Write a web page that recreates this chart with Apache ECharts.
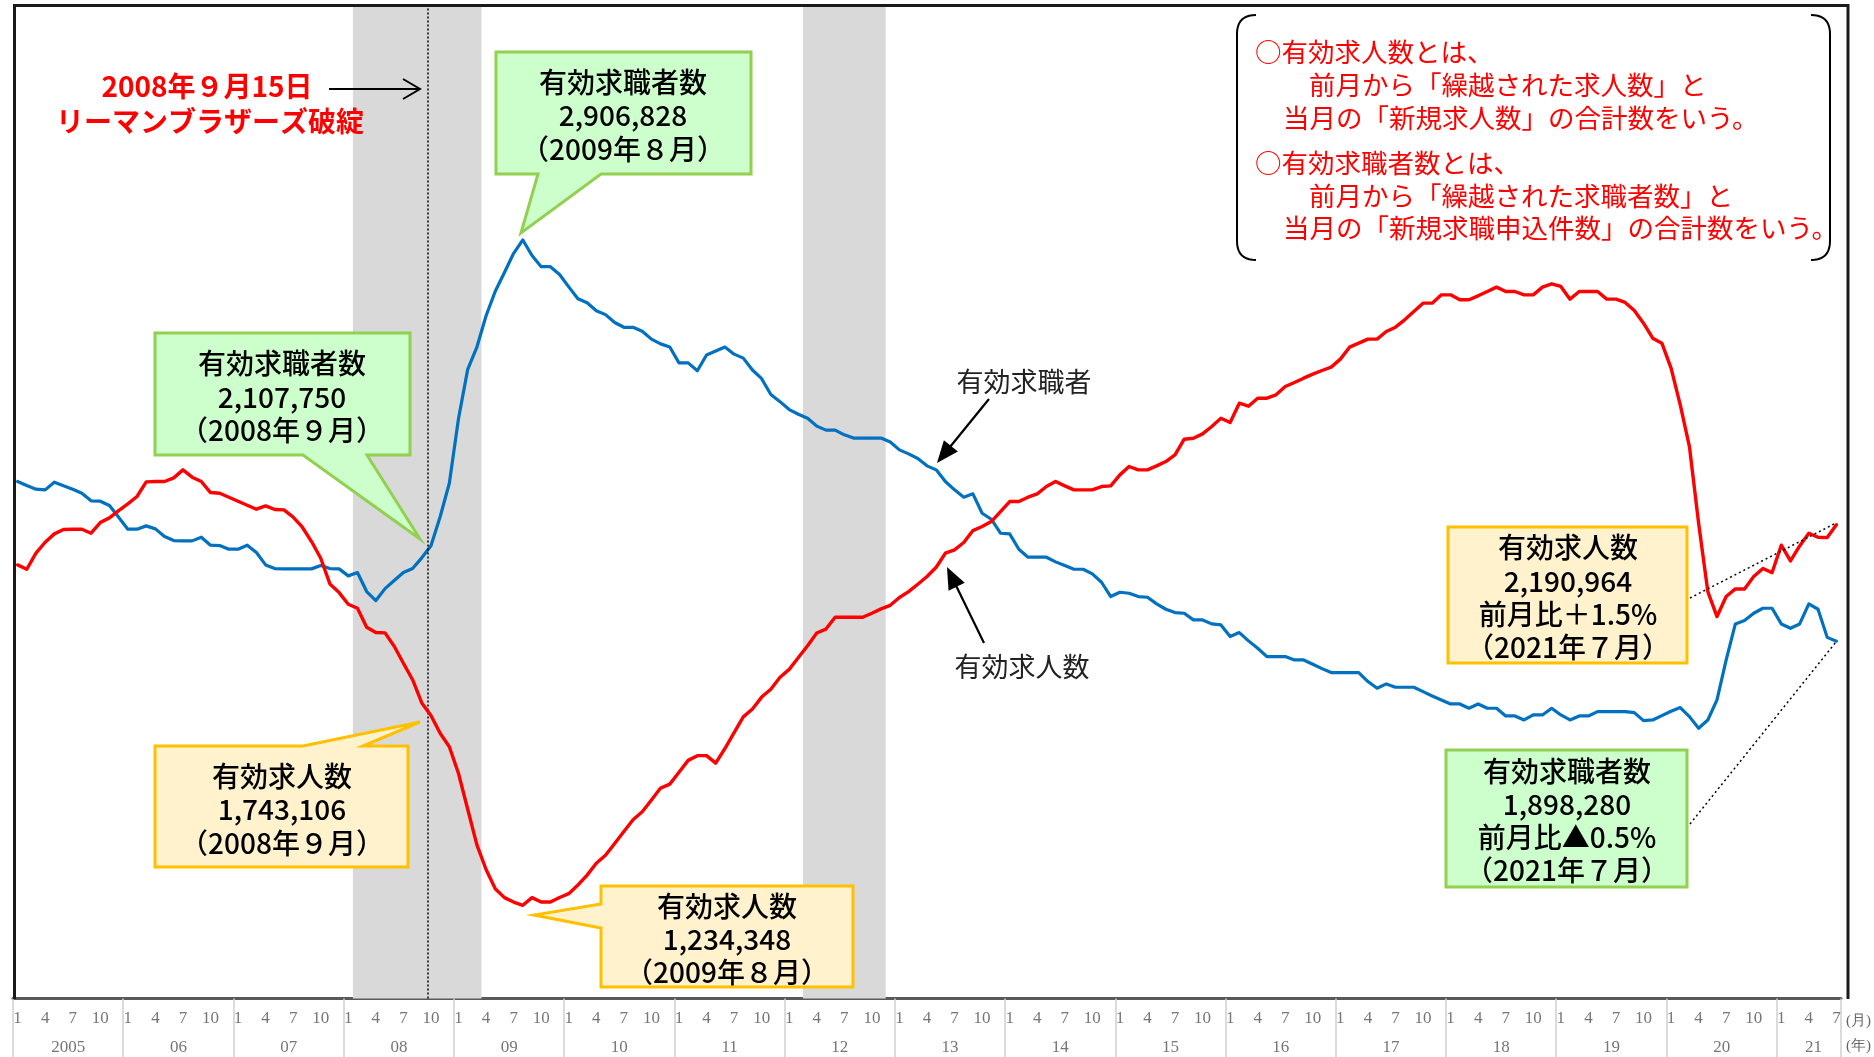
<!DOCTYPE html>
<html>
<head>
<meta charset="utf-8">
<script src="https://cdn.jsdelivr.net/npm/echarts@6/dist/echarts.min.js"></script>
<style>
  html, body { margin: 0; padding: 0; background: #ffffff; }
  #main { width: 1874px; height: 1057px; }
</style>
</head>
<body>
<div id="main"></div>
<script>
// 有効求人数 (job openings), monthly, Jan 2005 – Jul 2021
const jobOpenings = [
  2090000, 2079100, 2119400, 2147000, 2168000, 2178900, 2179700, 2179700, 2169700, 2196500, 2208200, 2226600, // 2005
  2243400, 2261900, 2298700, 2299600, 2299600, 2308800, 2328900, 2310500, 2299600, 2271900, 2270200, 2260200, // 2006
  2250100, 2240100, 2230000, 2238400, 2229200, 2228300, 2209900, 2184700, 2148700, 2106800, 2042200, 2020400, // 2007
  1991100, 1981100, 1933300, 1919900, 1919200, 1885500, 1842900, 1801400, 1743106, 1711600, 1666700, 1633000, // 2008
  1565600, 1475800, 1386000, 1324300, 1276000, 1253600, 1242400, 1234348, 1253600, 1242400, 1242400, 1254000, // 2009
  1263500, 1285400, 1310200, 1340100, 1360000, 1389800, 1419700, 1449500, 1469400, 1499200, 1529000, 1538900, // 2010
  1568800, 1598600, 1610500, 1610500, 1591600, 1628400, 1668200, 1707900, 1727900, 1757700, 1777600, 1807400, // 2011
  1827300, 1857100, 1886900, 1918800, 1928700, 1958500, 1958500, 1958500, 1958500, 1968500, 1979400, 1988400, // 2012
  2008000, 2022900, 2041400, 2060700, 2084100, 2119400, 2127800, 2146200, 2176300, 2186400, 2199000, 2224100, // 2013
  2249300, 2249300, 2260200, 2268600, 2287000, 2299600, 2288700, 2278600, 2278600, 2278600, 2287000, 2288700, // 2014
  2316300, 2337300, 2328900, 2328900, 2339000, 2349800, 2366600, 2406000, 2408500, 2419400, 2437900, 2458800, // 2015
  2447900, 2496600, 2489000, 2509100, 2509100, 2517500, 2538400, 2548500, 2559400, 2569500, 2578700, 2587100, // 2016
  2607200, 2637300, 2647400, 2657500, 2657500, 2676700, 2687600, 2706100, 2727000, 2748000, 2748000, 2768900, // 2017
  2768900, 2756400, 2756400, 2766400, 2777300, 2788200, 2777300, 2777300, 2768900, 2768900, 2788200, 2796600, // 2018
  2789900, 2758100, 2777300, 2777300, 2777300, 2758100, 2758100, 2749700, 2729500, 2697700, 2660000, 2647400, // 2019
  2584500, 2492300, 2387600, 2194800, 2023000, 1960100, 2010400, 2029600, 2029600, 2060700, 2080800, 2070700, // 2020
  2139500, 2100000, 2137800, 2169600, 2159600, 2158600, 2190964                                                // 2021
];

// 有効求職者数 (active job seekers), monthly, Jan 2005 – Jul 2021
const jobSeekers = [
  2299600, 2289500, 2280300, 2278600, 2297900, 2288700, 2280300, 2270200, 2251000, 2250100, 2239200, 2209900, // 2005
  2179700, 2179700, 2188100, 2180600, 2161300, 2151200, 2150400, 2150400, 2159600, 2139500, 2138600, 2129400, // 2006
  2129400, 2139500, 2121000, 2090000, 2080800, 2080000, 2080000, 2080000, 2080000, 2088300, 2080800, 2080000, // 2007
  2062400, 2070800, 2023000, 2000300, 2030400, 2050600, 2070800, 2080900, 2107750, 2138100, 2211100, 2295300, // 2008
  2458000, 2581500, 2637600, 2716200, 2777900, 2825100, 2873300, 2906828, 2867700, 2839700, 2839700, 2820000, // 2009
  2788800, 2758900, 2749000, 2729100, 2719200, 2699300, 2687300, 2687300, 2677400, 2657500, 2645600, 2637600, // 2010
  2597900, 2597900, 2578000, 2617800, 2627700, 2637600, 2619800, 2609800, 2580000, 2558100, 2518300, 2500400, // 2011
  2480500, 2468600, 2458700, 2438800, 2428800, 2428800, 2416900, 2408900, 2408900, 2408900, 2408900, 2399000, // 2012
  2379100, 2369100, 2357400, 2339000, 2328900, 2299600, 2278600, 2260200, 2268600, 2219900, 2204800, 2169600, // 2013
  2168000, 2129400, 2109300, 2109300, 2109300, 2097600, 2088300, 2079100, 2079100, 2067400, 2046400, 2010400, // 2014
  2021300, 2018800, 2010400, 2008700, 1992000, 1978500, 1970200, 1968500, 1951700, 1951700, 1941700, 1939100, // 2015
  1909800, 1919900, 1899000, 1880400, 1859500, 1859500, 1859500, 1851100, 1851100, 1840200, 1829300, 1819300, // 2016
  1819300, 1819300, 1819300, 1796700, 1780000, 1790800, 1782400, 1782400, 1782400, 1771500, 1760600, 1750500, // 2017
  1740500, 1740500, 1729600, 1740500, 1729600, 1729600, 1710300, 1710300, 1700200, 1712800, 1712800, 1729600, // 2018
  1712800, 1700200, 1710300, 1710300, 1721200, 1721200, 1721200, 1721200, 1718700, 1698600, 1700200, 1711100, // 2019
  1722000, 1731300, 1708600, 1679300, 1700200, 1750500, 1851100, 1941600, 1950000, 1968400, 1981000, 1981000, // 2020
  1941600, 1930700, 1941600, 1991900, 1978500, 1907800, 1898280                                                // 2021
];

const firstYear = 2005;
const lastYear = 2021;
const lastMonth = 7;
const labelledMonths = [1, 4, 7, 10];
// shaded recession periods (first month, last month)
const recessions = [['2008/2', '2009/3'], ['2012/3', '2012/11']];
// position of the dotted Lehman marker on the month scale
const lehmanPos = 45.1;

// month categories "yyyy/m"
const monthCats = [];
for (let y = firstYear; y <= lastYear; y++) {
  for (let m = 1; m <= 12; m++) {
    if (y === lastYear && m > lastMonth) break;
    monthCats.push(y + '/' + m);
  }
}
const idxOf = (c) => monthCats.indexOf(c);

function parseCat(c) {
  const p = c.split('/');
  return { y: +p[0], m: +p[1] };
}
function monthShown(m) { return labelledMonths.indexOf(m) >= 0; }
function yearShown(y, m) {
  // year caption sits under the middle of each year's span
  return (y < lastYear && m === 7) || (y === lastYear && m === 5);
}
function yearText(y) { return y === firstYear ? String(y) : String(y).slice(2); }

const BLUE = '#0070C0';
const RED = '#FF0000';
const JP = '"Noto Sans CJK JP", "Noto Sans", sans-serif';
const SERIF = '"Liberation Serif", "DejaVu Serif", serif';

// ---------- annotation helpers ----------
function textEl(x, y, text, opt) {
  opt = opt || {};
  return {
    type: 'text', z: 100, x: x, y: y, silent: true,
    style: {
      text: text,
      fill: opt.color || '#000',
      fontSize: opt.size || 28,
      fontFamily: opt.family || JP,
      fontWeight: opt.weight || 500,
      align: opt.align || 'center',
      verticalAlign: 'middle'
    }
  };
}
function lineEl(x1, y1, x2, y2, opt) {
  opt = opt || {};
  return {
    type: 'line', z: 100, silent: true,
    shape: { x1: x1, y1: y1, x2: x2, y2: y2 },
    style: { stroke: opt.color || '#000', lineWidth: opt.width || 2, lineDash: opt.dash || null }
  };
}
function arrowEl(x1, y1, x2, y2, open) {
  const dx = x2 - x1, dy = y2 - y1, L = Math.hypot(dx, dy);
  const ux = dx / L, uy = dy / L, px = -uy, py = ux;
  const len = open ? 17 : 22, hw = open ? 10 : 9;
  const bx = x2 - ux * len, by = y2 - uy * len;
  const els = [];
  if (open) {
    els.push(lineEl(x1, y1, x2, y2, { width: 2 }));
    els.push({
      type: 'polyline', z: 100, silent: true,
      shape: { points: [[bx + px * hw, by + py * hw], [x2, y2], [bx - px * hw, by - py * hw]] },
      style: { stroke: '#000', lineWidth: 2, fill: null }
    });
  } else {
    els.push(lineEl(x1, y1, bx + ux * 4, by + uy * 4, { width: 2.2 }));
    els.push({
      type: 'polygon', z: 100, silent: true,
      shape: { points: [[x2, y2], [bx + px * hw, by + py * hw], [bx - px * hw, by - py * hw]] },
      style: { fill: '#000' }
    });
  }
  return els;
}
// rectangular callout with a wedge pointer
function calloutEl(b, ptr, fill, stroke) {
  const [x1, y1, x2, y2] = b;
  let pts;
  if (!ptr) {
    pts = [[x1, y1], [x2, y1], [x2, y2], [x1, y2]];
  } else if (ptr.side === 'bottom') {
    pts = [[x1, y1], [x2, y1], [x2, y2], [ptr.b, y2], ptr.tip, [ptr.a, y2], [x1, y2]];
  } else if (ptr.side === 'top') {
    pts = [[x1, y1], [ptr.a, y1], ptr.tip, [ptr.b, y1], [x2, y1], [x2, y2], [x1, y2]];
  } else {
    pts = [[x1, y1], [x2, y1], [x2, y2], [x1, y2], [x1, ptr.b], ptr.tip, [x1, ptr.a]];
  }
  return {
    type: 'polygon', z: 90, silent: true,
    shape: { points: pts },
    style: { fill: fill, stroke: stroke, lineWidth: 3, lineJoin: 'miter' }
  };
}
// one side of a bracket: vertical stroke with curled ends
function bracketEl(xEnd, xBar, yTop, yBot, r) {
  const pts = [];
  const quad = (p0, p1, p2) => {
    for (let t = 0; t <= 1.0001; t += 0.1) {
      const a = (1 - t) * (1 - t), b = 2 * (1 - t) * t, c = t * t;
      pts.push([a * p0[0] + b * p1[0] + c * p2[0], a * p0[1] + b * p1[1] + c * p2[1]]);
    }
  };
  quad([xEnd, yTop], [xBar, yTop], [xBar, yTop + r]);
  quad([xBar, yBot - r], [xBar, yBot], [xEnd, yBot]);
  return {
    type: 'polyline', z: 100, silent: true,
    shape: { points: pts },
    style: { stroke: '#000', lineWidth: 2, fill: null }
  };
}
function stack(cx, ys, lines) {
  return lines.map((t, i) => textEl(cx, ys[i], t));
}

const GREEN_FILL = '#CCFFCC', GREEN_LINE = '#92D050';
const YELLOW_FILL = '#FFF2CC', YELLOW_LINE = '#FFC000';

const graphics = [];
// frame around the plot
graphics.push({
  type: 'polyline', z: 95, silent: true,
  shape: { points: [[14.5, 999], [14.5, 5.5], [1848, 5.5], [1848, 999]] },
  style: { stroke: '#1a1a1a', lineWidth: 3, fill: null }
});

// Lehman note
graphics.push(textEl(207, 86, '2008年９月15日', { color: RED, size: 28, weight: 'bold' }));
graphics.push(textEl(210, 121, 'リーマンブラザーズ破綻', { color: RED, size: 28, weight: 'bold' }));
graphics.push(...arrowEl(329, 89, 420, 89, true));

// callouts
graphics.push(calloutEl([496, 52, 751, 174], { side: 'bottom', a: 538, b: 601, tip: [521, 233] }, GREEN_FILL, GREEN_LINE));
graphics.push(...stack(623, [82, 115, 149], ['有効求職者数', '2,906,828', '（2009年８月）']));

graphics.push(calloutEl([155, 333, 410, 455], { side: 'bottom', a: 303, b: 367, tip: [420, 539] }, GREEN_FILL, GREEN_LINE));
graphics.push(...stack(282, [363, 397, 430], ['有効求職者数', '2,107,750', '（2008年９月）']));

graphics.push(calloutEl([155, 746, 408, 867], { side: 'top', a: 303, b: 363, tip: [420, 722] }, YELLOW_FILL, YELLOW_LINE));
graphics.push(...stack(282, [776, 809, 843], ['有効求人数', '1,743,106', '（2008年９月）']));

graphics.push(calloutEl([601, 886, 853, 987], { side: 'left', a: 904, b: 928, tip: [534, 915] }, YELLOW_FILL, YELLOW_LINE));
graphics.push(...stack(727, [906, 939, 972], ['有効求人数', '1,234,348', '（2009年８月）']));

graphics.push(calloutEl([1448, 527, 1687, 663], null, YELLOW_FILL, YELLOW_LINE));
graphics.push(...stack(1568, [547, 581, 614, 647], ['有効求人数', '2,190,964', '前月比＋1.5%', '（2021年７月）']));

graphics.push(calloutEl([1446, 750, 1687, 887], null, GREEN_FILL, GREEN_LINE));
graphics.push(...stack(1567, [771, 804, 837, 870], ['有効求職者数', '1,898,280', '前月比▲0.5%', '（2021年７月）']));

// dotted leaders to the latest points
graphics.push(lineEl(1690, 598, 1836, 523, { width: 1.5, dash: [2, 3] }));
graphics.push(lineEl(1690, 824, 1836, 642, { width: 1.5, dash: [2, 3] }));

// series captions
graphics.push(textEl(1024, 382, '有効求職者', { size: 27, color: '#222', weight: 'normal' }));
graphics.push(...arrowEl(989, 399, 937, 463, false));
graphics.push(textEl(1022, 667, '有効求人数', { size: 27, color: '#222', weight: 'normal' }));
graphics.push(...arrowEl(984, 643, 947, 567, false));

// definitions box (bracket pair)
graphics.push(bracketEl(1256, 1237, 15, 260, 19));
graphics.push(bracketEl(1811, 1830, 15, 260, 19));
const defs = [
  [1255, 52, '○有効求人数とは、'],
  [1309, 85, '前月から「繰越された求人数」と'],
  [1283, 118, '当月の「新規求人数」の合計数をいう。'],
  [1255, 163, '○有効求職者数とは、'],
  [1309, 196, '前月から「繰越された求職者数」と'],
  [1283, 228, '当月の「新規求職申込件数」の合計数をいう。']
];
defs.forEach(d => graphics.push(textEl(d[0], d[1], d[2], { color: RED, size: 26.5, align: 'left', weight: 'normal' })));

// axis unit captions
graphics.push(textEl(1846, 1021, '(月)', { size: 15, color: '#666', align: 'left', family: SERIF, weight: 'normal' }));
graphics.push(textEl(1846, 1046, '(年)', { size: 15, color: '#666', align: 'left', family: SERIF, weight: 'normal' }));

const chart = echarts.init(document.getElementById('main'));
chart.setOption({
  animation: false,
  backgroundColor: '#ffffff',
  grid: { left: 13, top: 4, width: 1828, height: 994.5, containLabel: false },
  xAxis: [
    {
      type: 'category',
      data: monthCats,
      boundaryGap: true,
      position: 'bottom',
      axisLine: { show: true, lineStyle: { color: '#595959', width: 3 } },
      axisTick: {
        show: true,
        interval: (i) => i % 12 === 0,
        length: 60,
        lineStyle: { color: '#D0D0D0', width: 1.5 }
      },
      axisLabel: {
        interval: (i, v) => { const c = parseCat(v); return monthShown(c.m) || yearShown(c.y, c.m); },
        formatter: (v) => {
          const c = parseCat(v);
          const mt = monthShown(c.m) ? String(c.m) : '';
          const yt = yearShown(c.y, c.m) ? yearText(c.y) : '';
          return '{m|' + mt + '}\n{y|' + yt + '}';
        },
        margin: 8,
        rich: {
          m: { fontFamily: SERIF, fontSize: 17, color: '#767676', lineHeight: 24 },
          y: { fontFamily: SERIF, fontSize: 17, color: '#767676', lineHeight: 34, padding: [0, 9, 0, 0] }
        }
      },
      splitLine: { show: false }
    },
    { type: 'value', min: 0, max: monthCats.length, show: false }
  ],
  yAxis: { type: 'value', min: 1000000, max: 3500000, show: false },
  series: [
    {
      type: 'line', xAxisIndex: 1, data: [], z: 1, silent: true,
      markArea: {
        silent: true,
        itemStyle: { color: '#D9D9D9' },
        data: recessions.map(r => [{ xAxis: idxOf(r[0]) }, { xAxis: idxOf(r[1]) + 1 }])
      },
      markLine: {
        silent: true, symbol: ['none', 'none'], label: { show: false },
        lineStyle: { color: '#000', type: [2, 2], width: 1.5 },
        data: [{ xAxis: lehmanPos }]
      }
    },
    {
      name: '有効求職者数', type: 'line', data: jobSeekers, symbol: 'none', z: 4,
      lineStyle: { color: BLUE, width: 3.2, join: 'round', cap: 'round' }
    },
    {
      name: '有効求人数', type: 'line', data: jobOpenings, symbol: 'none', z: 5,
      lineStyle: { color: RED, width: 3.4, join: 'round', cap: 'round' }
    }
  ],
  graphic: { elements: graphics }
});
</script>
</body>
</html>
